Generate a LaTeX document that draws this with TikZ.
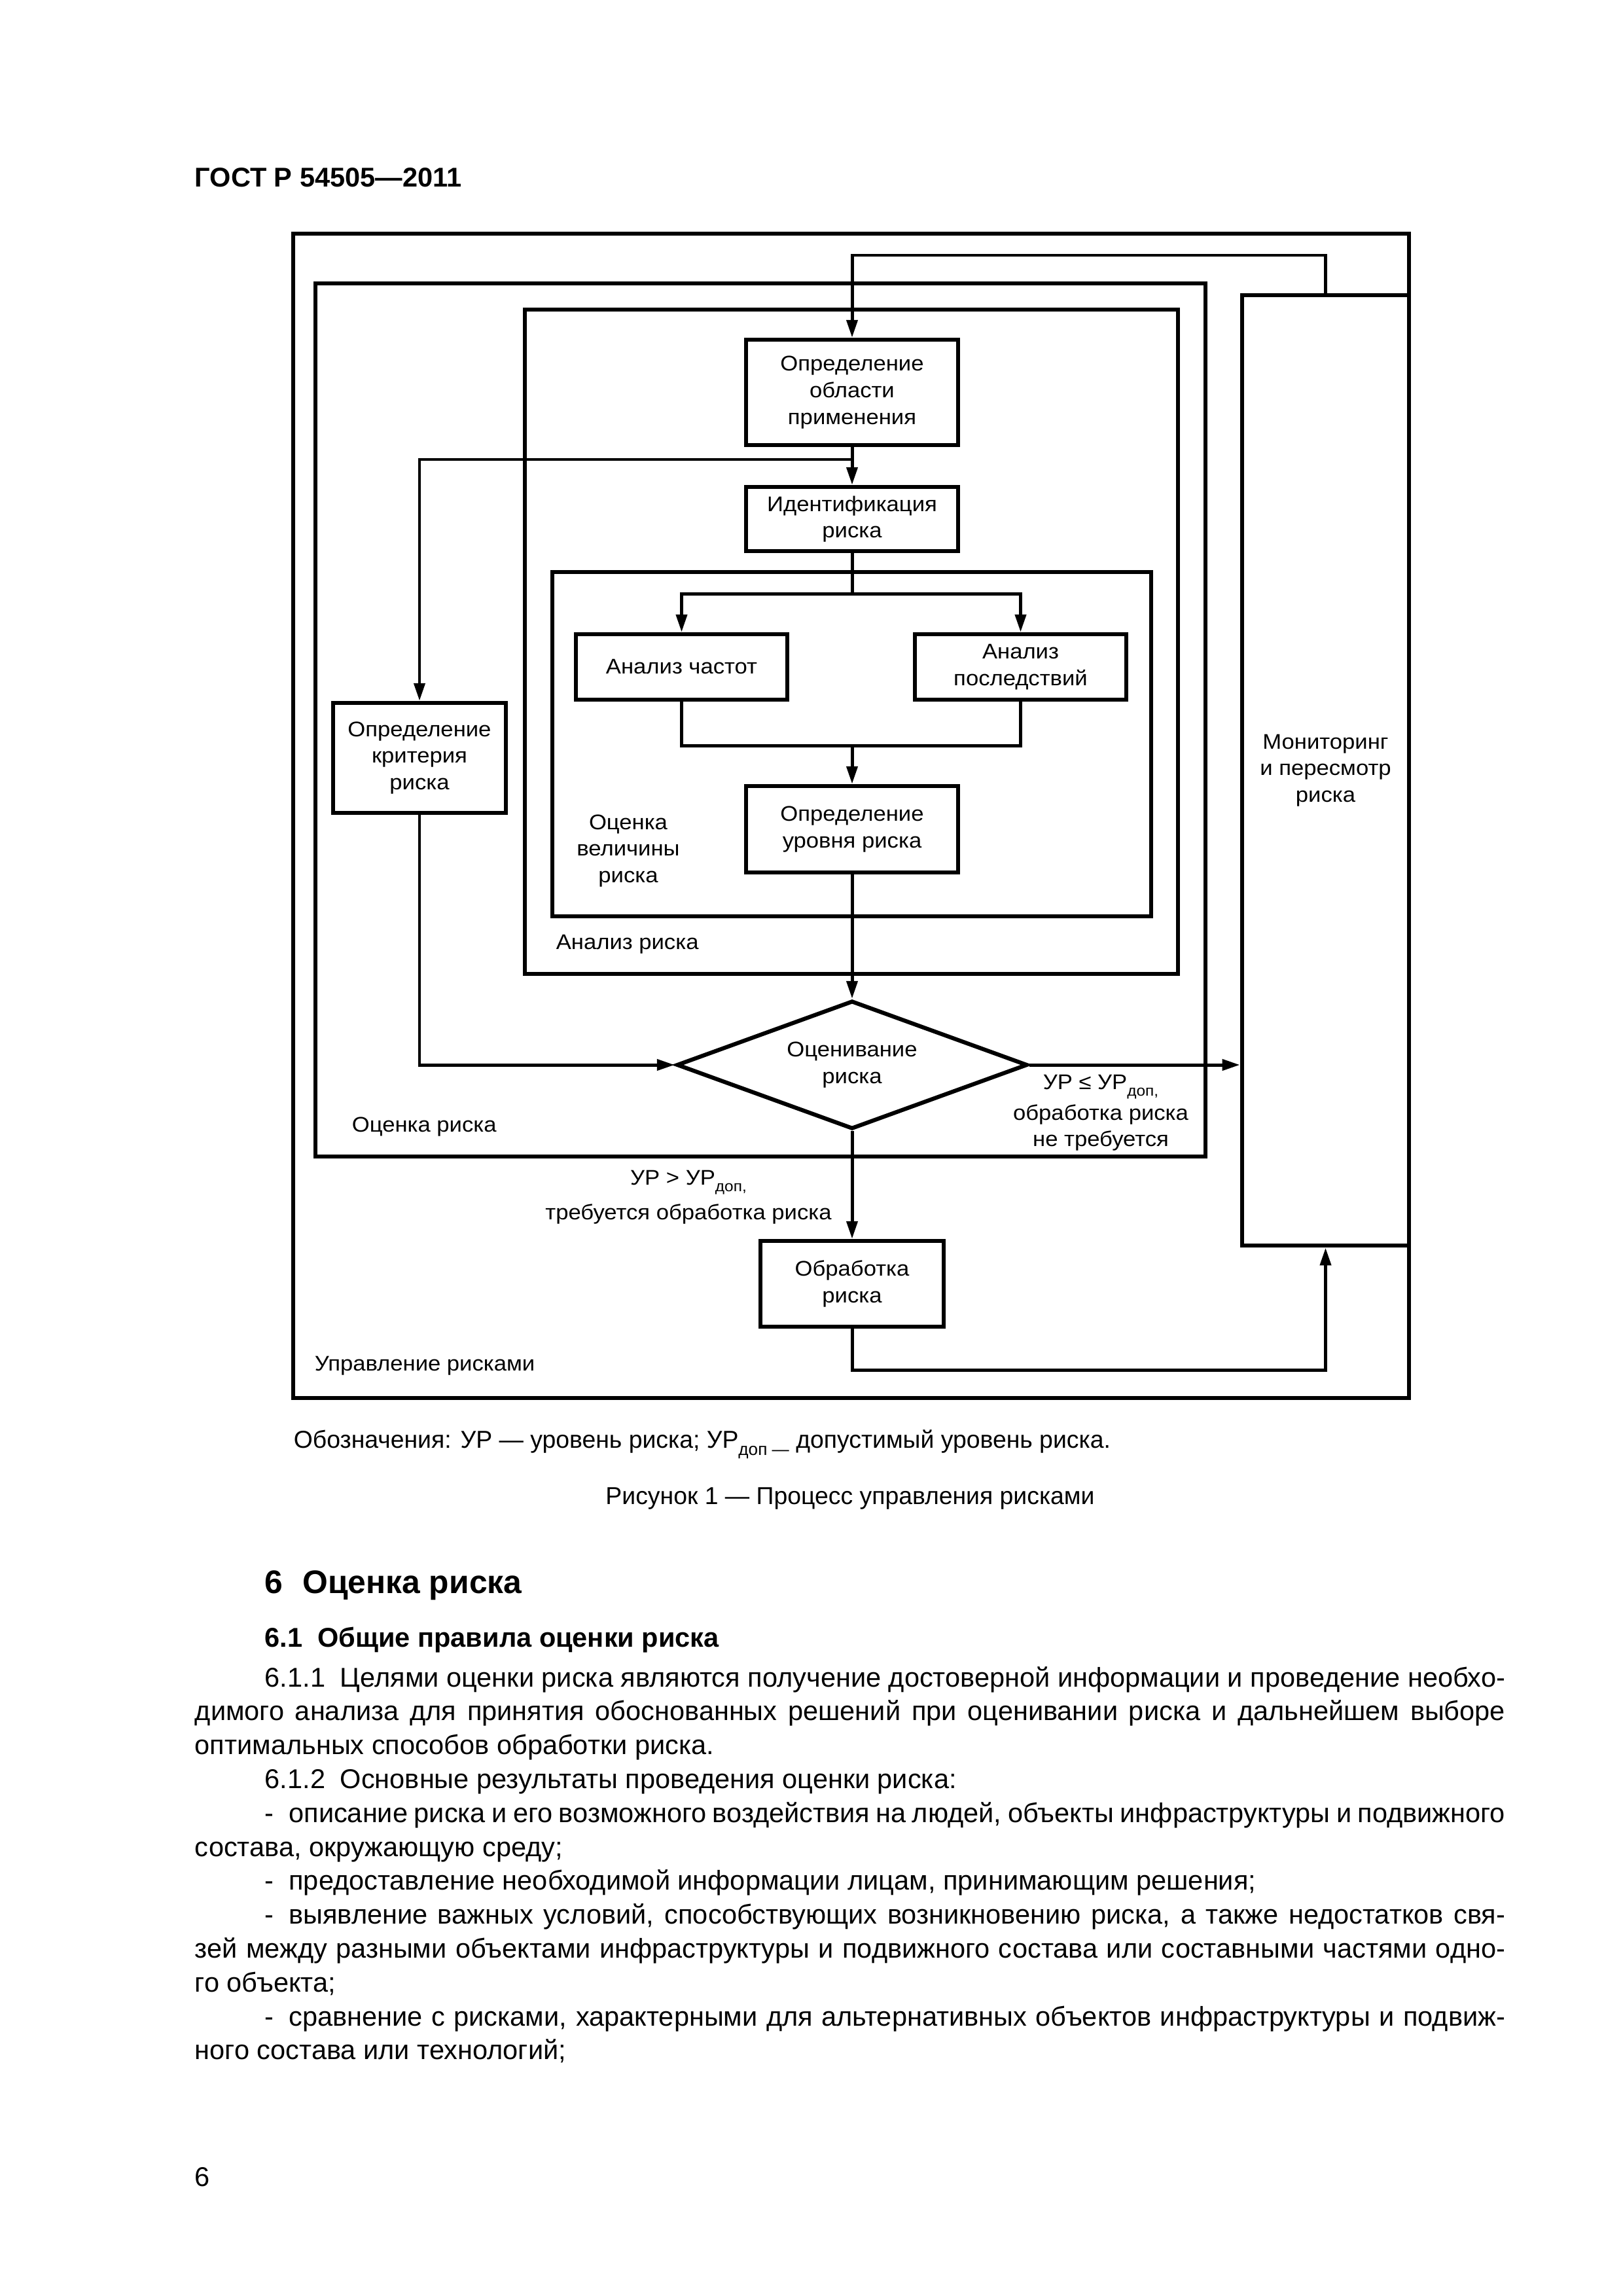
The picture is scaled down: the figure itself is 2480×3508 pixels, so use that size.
\documentclass[tikz,border=0pt]{standalone}
\usepackage{fontspec}
\setmainfont{Liberation Sans}
\newfontfamily\dfont{Liberation Sans}[FakeStretch=1.07]
\usetikzlibrary{arrows.meta,shapes.geometric}
\def\pu{0.084677mm}
\newcommand\dsub[1]{\raisebox{-2.6pt}{\fontsize{5.5}{5.5}\selectfont #1}}
\newcommand\csub[1]{\raisebox{-2.8pt}{\fontsize{6.3}{6.3}\selectfont #1}}
\newcommand\fl[1]{\noindent\makebox[\linewidth][s]{#1}\par}
\newcommand\fli[1]{\noindent\hspace*{9.06mm}\makebox[160.46mm][s]{#1}\par}
\newcommand\nl[1]{\noindent #1\par}
\newcommand\nli[1]{\noindent\hspace*{9.06mm}#1\par}
\begin{document}
\begin{tikzpicture}[x=0.084677mm, y=-0.084677mm,
  every node/.style={inner sep=0pt},
  frame/.style={draw, line width=1.25pt},
  bigframe/.style={draw, line width=1.6pt},
  dtext/.style={font=\dfont\fontsize{7.8}{9.8}\selectfont},
  box/.style={draw, line width=1.5pt, align=center, dtext},
  dia/.style={diamond, draw, line width=1.5pt, align=center, dtext, aspect=2.7},
  conn/.style={line width=1.2pt},
  arr/.style={conn, -{Triangle[length=6.5pt,width=4pt]}},
  lbl/.style={align=center, dtext},
]
\fill[white] (0,0) rectangle (2480,3508);
\useasboundingbox (0,0) rectangle (2480,3508);

% header
\node[anchor=base west, font=\bfseries\fontsize{10}{12}\selectfont] (hdr) at (297,285) {ГОСТ Р 54505—2011};

% frames
\draw[bigframe] (448,357) rectangle (2153,2136);
\draw[frame] (482,433) rectangle (1842,1767);
\draw[frame] (802,473) rectangle (1800,1488);
\draw[frame] (844,874) rectangle (1759,1400);

% boxes
\node[box, line width=1.6pt, minimum width=255*\pu, minimum height=1452*\pu] (mon) at (2025.5,1177) {Мониторинг\\и пересмотр\\риска};
\node[box, minimum width=324*\pu, minimum height=161*\pu] (scope) at (1302,599.5) {Определение\\области\\применения};
\node[box, minimum width=324*\pu, minimum height=98*\pu] (ident) at (1302,793) {Идентификация\\риска};
\node[box, minimum width=323*\pu, minimum height=100*\pu] (freq) at (1041.5,1019) {Анализ частот};
\node[box, minimum width=323*\pu, minimum height=100*\pu] (cons) at (1559.5,1019) {Анализ\\последствий};
\node[box, minimum width=324*\pu, minimum height=132*\pu] (level) at (1302,1267) {Определение\\уровня риска};
\node[box, minimum width=264*\pu, minimum height=168*\pu] (crit) at (641,1158) {Определение\\критерия\\риска};
\node[dia, minimum width=536*\pu, minimum height=196*\pu] (eval) at (1302,1627) {Оценивание\\риска};
\node[box, minimum width=280*\pu, minimum height=131*\pu] (treat) at (1302,1961.5) {Обработка\\риска};

% connectors
\coordinate (lt) at (1302,390);
\draw[arr] (mon.north) |- (lt) -- (scope.north);
\draw[arr] (scope.south) -- (ident.north);
\coordinate (br) at (1302,702);
\draw[arr] (br) -| (crit.north);
\coordinate (sp) at (1302,907.5);
\draw[conn] (ident.south) -- (sp);
\draw[arr] (sp) -| (freq.north);
\draw[arr] (sp) -| (cons.north);
\coordinate (jn) at (1302,1139);
\draw[conn] (freq.south) |- (jn) -| (cons.south);
\draw[arr] (jn) -- (level.north);
\draw[arr] (level.south) -- (eval.north);
\draw[arr] (crit.south) |- (eval.west);
\draw[arr] (eval.east) -- (eval.east -| mon.west);
\draw[arr] (eval.south) -- (treat.north);
\coordinate (bt) at (1302,2093.6);
\draw[arr] (treat.south) -- (bt) -| (mon.south);

% labels
\node[lbl] (vlab) at (960,1300) {Оценка\\величины\\риска};
\node[lbl, anchor=west] (alab) at (849,1443) {Анализ риска};
\node[lbl, anchor=west] (olab) at (537,1722) {Оценка риска};
\node[lbl, anchor=west] (ulab) at (480,2087) {Управление рисками};
\node[lbl, anchor=north] (oklab) at (1682,1641) {УР ≤ УР\dsub{доп,}\\[1.5pt]обработка риска\\не требуется};
\node[lbl, anchor=north] (nolab) at (1052,1787) {УР > УР\dsub{доп,}\\[3pt]требуется обработка риска};

% caption
\node[anchor=base west, font=\fontsize{9}{11}\selectfont] (leg) at (448,2212) {Обозначения: УР — уровень риска; УР\csub{доп —} допустимый уровень риска.};
\node[anchor=base, font=\fontsize{9}{11}\selectfont] (fig) at (1299,2298) {Рисунок 1 — Процесс управления рисками};

% headings
\node[anchor=base west, font=\bfseries\fontsize{12}{14}\selectfont] (h6) at (404,2434) {6\hspace{0.6em}Оценка риска};
\node[anchor=base west, font=\bfseries\fontsize{10}{12}\selectfont] (h61) at (404,2516) {6.1\hspace{0.55em}Общие правила оценки риска};

% body
\node[anchor=base west, font=\fontsize{10}{12.48}\selectfont] (body) at (297,2577) {\begin{minipage}[t]{169.52mm}\setlength{\baselineskip}{12.48pt}%
\fli{6.1.1\hspace{0.55em}Целями оценки риска являются получение достоверной информации и проведение необхо-}
\fl{димого анализа для принятия обоснованных решений при оценивании риска и дальнейшем выборе}
\nl{оптимальных способов обработки риска.}
\nli{6.1.2\hspace{0.55em}Основные результаты проведения оценки риска:}
\fli{-\hspace{0.55em}описание риска и его возможного воздействия на людей, объекты инфраструктуры и подвижного}
\nl{состава, окружающую среду;}
\nli{-\hspace{0.55em}предоставление необходимой информации лицам, принимающим решения;}
\fli{-\hspace{0.55em}выявление важных условий, способствующих возникновению риска, а также недостатков свя-}
\fl{зей между разными объектами инфраструктуры и подвижного состава или составными частями одно-}
\nl{го объекта;}
\fli{-\hspace{0.55em}сравнение с рисками, характерными для альтернативных объектов инфраструктуры и подвиж-}
\nl{ного состава или технологий;}
\end{minipage}};

\node[anchor=base west, font=\fontsize{10}{12}\selectfont] (pg) at (297,3340) {6};
\end{tikzpicture}
\end{document}
